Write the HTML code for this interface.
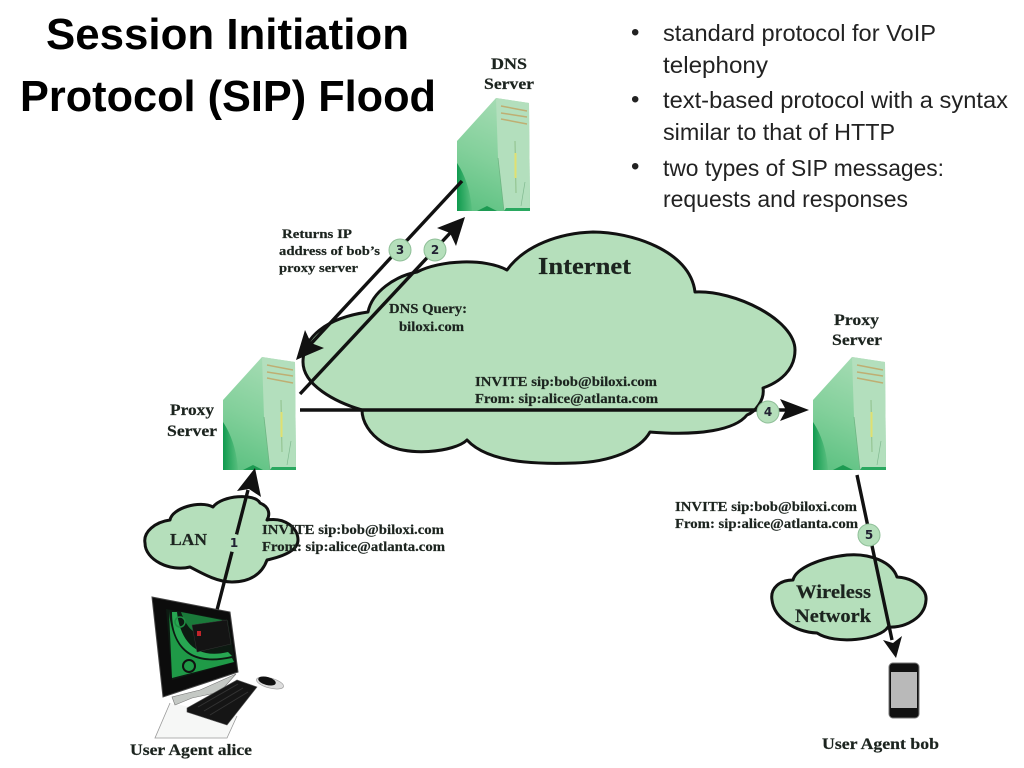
<!DOCTYPE html>
<html><head><meta charset="utf-8"><style>
html,body{margin:0;padding:0;background:#fff;width:1024px;height:768px;overflow:hidden}
svg{display:block}
.t{font-family:"Liberation Sans",sans-serif;fill:#000}
.b{font-family:"Liberation Sans",sans-serif;fill:#222}
.s{font-family:"Liberation Serif",serif;font-weight:bold;fill:#1c241f;stroke:#1c241f;stroke-width:.2}
.n{font-family:"DejaVu Sans",sans-serif;font-weight:bold;font-size:12px;fill:#223;text-anchor:middle}
.c{fill:#b5dfbb;stroke:#111;stroke-width:3;stroke-linejoin:round}
.l{stroke:#111;fill:none;stroke-width:3.4}
.a{fill:#111}
.bd{fill:#b5dfbb;stroke:#8fbf98;stroke-width:1}
.soft{filter:blur(.35px)}
</style></head><body>
<svg width="1024" height="768" viewBox="0 0 1024 768" xmlns="http://www.w3.org/2000/svg">
<defs>
<linearGradient id="g1" x1="0.6" y1="0" x2="0.3" y2="1"><stop offset="0" stop-color="#a6dcb4"/><stop offset=".55" stop-color="#83d09b"/><stop offset="1" stop-color="#5fc283"/></linearGradient>
<linearGradient id="g2" x1="1" y1="0" x2="0" y2="0"><stop offset="0" stop-color="#0f9a4e" stop-opacity=".1"/><stop offset="1" stop-color="#0f9a4e"/></linearGradient>
<g id="srv">
<path d="M0 43 L39 0 L72 5 L73 113 L0 113Z" fill="url(#g1)"/>
<path d="M39 0 L72 5 L73 113 L47 113 L41 60Z" fill="#b3dfbd"/>
<path d="M0 65 C10 80 14 98 15 113 L0 113Z" fill="url(#g2)"/>
<path d="M41 60 L47 113" stroke="#6fb583" stroke-width=".8" fill="none"/>
<path d="M47 113 L73 113 L73 110 L49 110Z" fill="#2aa860"/>
<path d="M20 113 L30 108 L40 113Z" fill="#1c9a52"/>
<path d="M44 8 L70 13 M44 15 L70 19 M44 21 L70 26" stroke="#bfae72" stroke-width="1.5" fill="none"/>
<path d="M58 43 L59 95" stroke="#8fc08a" stroke-width="1"/>
<path d="M58.500 55 L58.500 80" stroke="#e0e070" stroke-width="2"/>
<path d="M68 84 L64 108" stroke="#7fb98f" stroke-width=".7"/>
</g>
</defs>
<text class="t" font-weight="bold" font-size="44" x="46" y="49" textLength="363" lengthAdjust="spacingAndGlyphs">Session Initiation</text>
<text class="t" font-weight="bold" font-size="44" x="20" y="111" textLength="416" lengthAdjust="spacingAndGlyphs">Protocol (SIP) Flood</text>

<g font-size="24">
<text class="b" x="631" y="40">•</text>
<text class="b" x="663" y="41" font-size="23" textLength="273" lengthAdjust="spacingAndGlyphs">standard protocol for VoIP</text>
<text class="b" x="663" y="73" font-size="23" textLength="105" lengthAdjust="spacingAndGlyphs">telephony</text>
<text class="b" x="631" y="107">•</text>
<text class="b" x="663" y="108" font-size="23" textLength="345" lengthAdjust="spacingAndGlyphs">text-based protocol with a syntax</text>
<text class="b" x="663" y="140" font-size="23" textLength="232" lengthAdjust="spacingAndGlyphs">similar to that of HTTP</text>
<text class="b" x="631" y="174">•</text>
<text class="b" x="663" y="176" font-size="23" textLength="281" lengthAdjust="spacingAndGlyphs">two types of SIP messages:</text>
<text class="b" x="663" y="207" font-size="23" textLength="245" lengthAdjust="spacingAndGlyphs">requests and responses</text>
</g>

<g class="soft">
<!-- Internet cloud -->
<path class="c" d="M368 312 C372 292 395 276 417 272 C440 260 485 258 507 270 C525 245 560 233 593 232 C630 232 690 250 695 292 C735 290 795 320 795 350 C795 370 780 382 763 388 C765 400 755 412 747 415 C735 430 700 436 650 432 C640 450 610 462 575 463 C545 464 490 465 467 440 C455 452 405 458 382 442 C370 434 362 422 362 410 C335 402 303 385 303 362 C303 338 325 318 368 312Z"/>
<!-- LAN cloud -->
<path class="c" d="M145 543 C143 532 155 522 170 520 C172 508 200 500 213 507 C222 495 255 493 260 503 C270 507 270 515 267 520 C285 517 298 528 298 540 C298 550 285 556 267 560 C262 574 250 582 232 582 C218 582 205 575 190 567 C170 572 145 560 145 543Z"/>
<!-- Wireless cloud -->
<path class="c" d="M772 600 C770 588 780 580 793 580 C796 568 820 558 847 555 C870 553 892 562 897 577 C915 578 927 590 926 600 C925 618 905 628 888 627 C880 640 835 645 817 633 C795 632 774 618 772 600Z"/>

<!-- Servers -->
<use href="#srv" x="457" y="98"/>
<use href="#srv" x="223" y="357"/>
<use href="#srv" x="813" y="357"/>

<!-- Connectors -->
<path class="l" d="M462 181 L308 347"/>
<path class="a" d="M296 360 L305 330 L311 343 L324 348Z"/>
<path class="l" d="M300 394 L452 231"/>
<path class="a" d="M465 217 L456 246 L450 233 L437 228Z"/>
<path class="l" d="M300 410 L788 410"/>
<path class="a" d="M809 410 L780 399 L786 410 L780 421Z"/>
<path class="l" d="M217 610 L248 490"/>
<path class="a" d="M255 468 L261 497 L249 489 L237 491Z"/>
<path class="l" d="M857 475 L892 640"/>
<path class="a" d="M896 658 L883 640 L893 643 L902 636Z"/>

<!-- Badges -->
<circle class="bd" cx="400" cy="250" r="11"/><text class="n" x="400" y="254">3</text>
<circle class="bd" cx="435" cy="250" r="11"/><text class="n" x="435" y="254">2</text>
<circle class="bd" cx="768" cy="412" r="11"/><text class="n" x="768" y="416">4</text>
<circle class="bd" cx="869" cy="535" r="11"/><text class="n" x="869" y="539">5</text>
<circle cx="234" cy="543" r="9" fill="#b5dfbb"/><text class="n" x="234" y="547">1</text>

<!-- Labels -->
<g class="s">
<text x="491" y="69" font-size="15.500" textLength="36" lengthAdjust="spacingAndGlyphs">DNS</text>
<text x="484" y="89" font-size="15.500" textLength="50" lengthAdjust="spacingAndGlyphs">Server</text>
<text x="282" y="238" font-size="13" textLength="70" lengthAdjust="spacingAndGlyphs">Returns IP</text>
<text x="279" y="255" font-size="13" textLength="101" lengthAdjust="spacingAndGlyphs">address of bob’s</text>
<text x="279" y="272" font-size="13" textLength="79" lengthAdjust="spacingAndGlyphs">proxy server</text>
<text x="538" y="274" font-size="24" textLength="93" lengthAdjust="spacingAndGlyphs">Internet</text>
<text x="389" y="313" font-size="13.500" textLength="78" lengthAdjust="spacingAndGlyphs">DNS Query:</text>
<text x="399" y="331" font-size="13.500" textLength="65" lengthAdjust="spacingAndGlyphs">biloxi.com</text>
<text x="475" y="386" font-size="13.500" textLength="182" lengthAdjust="spacingAndGlyphs">INVITE sip:bob@biloxi.com</text>
<text x="475" y="403" font-size="13.500" textLength="183" lengthAdjust="spacingAndGlyphs">From: sip:alice@atlanta.com</text>
<text x="170" y="415" font-size="15.500" textLength="44" lengthAdjust="spacingAndGlyphs">Proxy</text>
<text x="167" y="436" font-size="15.500" textLength="50" lengthAdjust="spacingAndGlyphs">Server</text>
<text x="834" y="325" font-size="15.500" textLength="45" lengthAdjust="spacingAndGlyphs">Proxy</text>
<text x="832" y="345" font-size="15.500" textLength="50" lengthAdjust="spacingAndGlyphs">Server</text>
<text x="170" y="545" font-size="17" textLength="37" lengthAdjust="spacingAndGlyphs">LAN</text>
<text x="262" y="534" font-size="13.500" textLength="182" lengthAdjust="spacingAndGlyphs">INVITE sip:bob@biloxi.com</text>
<text x="262" y="551" font-size="13.500" textLength="183" lengthAdjust="spacingAndGlyphs">From: sip:alice@atlanta.com</text>
<text x="675" y="511" font-size="13.500" textLength="182" lengthAdjust="spacingAndGlyphs">INVITE sip:bob@biloxi.com</text>
<text x="675" y="528" font-size="13.500" textLength="183" lengthAdjust="spacingAndGlyphs">From: sip:alice@atlanta.com</text>
<text x="796" y="598" font-size="19" textLength="75" lengthAdjust="spacingAndGlyphs">Wireless</text>
<text x="795" y="622" font-size="19" textLength="76" lengthAdjust="spacingAndGlyphs">Network</text>
<text x="130" y="755" font-size="15.500" textLength="122" lengthAdjust="spacingAndGlyphs">User Agent alice</text>
<text x="822" y="749" font-size="15.500" textLength="117" lengthAdjust="spacingAndGlyphs">User Agent bob</text>
</g>

<!-- Computer -->
<path d="M170 703 L155 738 L227 738 L237 716" fill="#f6f7f6" stroke="#999" stroke-width=".8"/>
<path d="M172 697 L175 705 L192 698 L220 692 L236 674 L200 690Z" fill="#c4c8c4" stroke="#777" stroke-width=".6"/>
<path d="M152 597 L230 612 L238 672 L163 697Z" fill="#0c0c0c" stroke="#444" stroke-width="1"/>
<path d="M166 609 L228 620 L235 662 L172 680Z" fill="#0d1a12"/>
<path d="M169 611 C172 645 186 668 232 658 L234 662 L172 678Z" fill="#1f9a47"/>
<path d="M172 612 L177 612 C180 640 195 660 228 652 L232 656 C190 666 172 645 172 612Z" fill="#27a752"/>
<path d="M181 612 C188 632 200 640 212 630 L222 620Z" fill="#1a7a3a"/>
<circle cx="180" cy="622" r="5" fill="none" stroke="#1f8c43" stroke-width="1.500"/>
<circle cx="189" cy="666" r="6" fill="none" stroke="#111" stroke-width="2"/>
<path d="M192 625 L227 620 L231 644 L197 652Z" fill="#141414" stroke="#333" stroke-width=".5"/>
<rect x="197" y="631" width="4" height="5" fill="#c0242a"/>
<path d="M187 708 L237 680 L257 687 L227 725 L187 712Z" fill="#151515" stroke="#555" stroke-width=".6"/>
<path d="M198 707 L238 684 M204 711 L243 688 M210 715 L248 692" stroke="#333" stroke-width="1"/>
<ellipse cx="270" cy="683" rx="14" ry="5" fill="#ddd" stroke="#999" stroke-width=".6" transform="rotate(15 270 683)"/>
<ellipse cx="267" cy="681" rx="9" ry="4" fill="#111" transform="rotate(15 267 681)"/>

<!-- Phone -->
<rect x="889" y="663" width="30" height="55" rx="4" fill="#111" stroke="#777" stroke-width="1"/>
<rect x="891" y="672" width="26" height="36" fill="#b9b9b9"/>
</g>
</svg>
</body></html>
